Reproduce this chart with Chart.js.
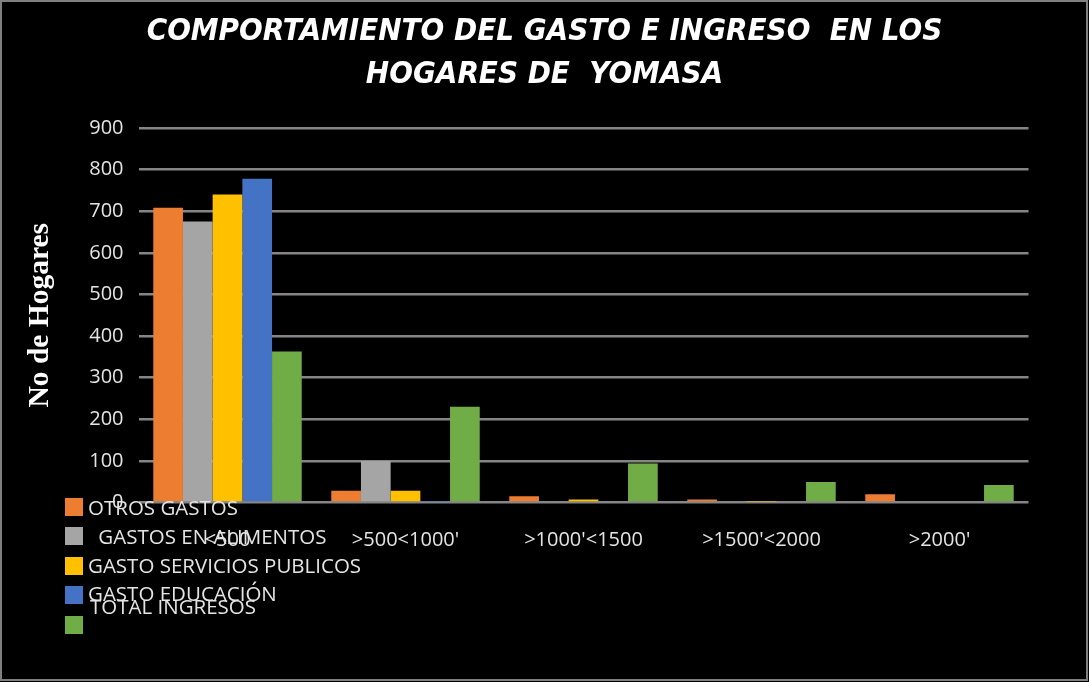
<!DOCTYPE html>
<html>
<head>
<meta charset="utf-8">
<title>Gasto e ingreso - Yomasa</title>
<script src="https://cdn.jsdelivr.net/npm/chart.js@4.4.1/dist/chart.umd.min.js"></script>
<style>
  html, body { margin: 0; padding: 0; background: #000; }
  #wrap { width: 1089px; height: 682px; position: relative; }
</style>
</head>
<body>
<div id="wrap"><canvas id="chart" width="1089" height="682"></canvas></div>
<script>
// data
const categories = ['<500', ">500<1000'", ">1000'<1500", ">1500'<2000", ">2000'"];
const seriesNames = ['OTROS GASTOS', ' GASTOS EN ALIMENTOS', 'GASTO SERVICIOS PUBLICOS', 'GASTO EDUCACIÓN', 'TOTAL INGRESOS'];
const otrosGastos = [708, 28, 15, 7, 20];
const gastosAlimentos = [675, 100, 0, 0, 0];
const gastoServicios = [740, 28, 7, 2, 3];
const gastoEducacion = [778, 2, 0, 0, 3];
const totalIngresos = [363, 230, 94, 49, 42];
const yTicks = [0, 100, 200, 300, 400, 500, 600, 700, 800, 900];

const colors = ['#ED7D31', '#A5A5A5', '#FFC000', '#4472C4', '#70AD47'];
const allSeries = [otrosGastos, gastosAlimentos, gastoServicios, gastoEducacion, totalIngresos];

const txtColor = '#e4e4e4';
const tickFont = { family: "'Open Sans', sans-serif", size: 20 };

// legend rows sit over the axis labels like in the original, so draw it by hand
const legendRows = [
    { box: 498, text: 509, tx: 88 },
    { box: 527, text: 538, tx: 93 },
    { box: 557, text: 567, tx: 88 },
    { box: 586, text: 595, tx: 88 },
    { box: 616, text: 608, tx: 90 }
];

const manualLegend = {
    id: 'manualLegend',
    beforeDraw(chart) {
        const ctx = chart.ctx;
        ctx.save();
        ctx.fillStyle = '#000';
        ctx.fillRect(0, 0, chart.width, chart.height);
        ctx.restore();
    },
    afterDraw(chart) {
        const ctx = chart.ctx;
        ctx.save();
        ctx.font = "20.5px 'Open Sans', sans-serif";
        ctx.textBaseline = 'middle';
        chart.data.datasets.forEach((ds, i) => {
            const r = legendRows[i];
            ctx.fillStyle = ds.backgroundColor;
            ctx.fillRect(65, r.box, 18, 18);
            ctx.fillStyle = txtColor;
            ctx.fillText(ds.label, r.tx, r.text);
        });
        // frame
        ctx.strokeStyle = '#7f7f7f';
        ctx.lineWidth = 2;
        ctx.strokeRect(1, 1, chart.width - 3, chart.height - 3);
        ctx.restore();
    }
};

const ctx = document.getElementById('chart').getContext('2d');
const myChart = new Chart(ctx, {
    type: 'bar',
    data: {
        labels: categories,
        datasets: allSeries.map((vals, i) => ({
            label: seriesNames[i],
            data: vals,
            backgroundColor: colors[i],
            borderWidth: 0,
            categoryPercentage: 0.834,
            barPercentage: 1
        }))
    },
    options: {
        responsive: false,
        animation: false,
        layout: { padding: { left: 0, right: 0, top: 0, bottom: 0 } },
        plugins: {
            legend: { display: false },
            tooltip: { enabled: false },
            title: {
                display: true,
                text: ['COMPORTAMIENTO DEL GASTO E INGRESO  EN LOS', 'HOGARES DE  YOMASA'],
                color: '#ffffff',
                font: { family: "'DejaVu Sans Condensed', sans-serif", size: 31, style: 'italic', weight: 'bold', lineHeight: 1.38 },
                padding: { top: 11, bottom: 31.4 }
            }
        },
        scales: {
            x: {
                grid: { display: false },
                border: { display: false },
                ticks: { color: txtColor, font: tickFont, padding: 18, maxRotation: 0, autoSkip: false },
                afterFit: s => { s.height = 682 - 502.5; }
            },
            y: {
                min: 0,
                max: 900,
                afterBuildTicks: s => { s.ticks = yTicks.map(v => ({ value: v })); },
                grid: { color: '#858585', lineWidth: 2.5, drawTicks: false },
                border: { display: false },
                ticks: { color: txtColor, font: tickFont, padding: 15 },
                title: {
                    display: true,
                    text: 'No de Hogares',
                    color: '#ffffff',
                    font: { family: "'Liberation Serif', serif", size: 29.5, weight: 'bold' },
                    padding: { top: 23, bottom: 0 }
                },
                afterFit: s => { s.width = 138.5; }
            },
            // empty right axis keeps the plot off the right edge while the title stays centred
            yR: {
                position: 'right',
                grid: { display: false },
                border: { display: false },
                ticks: { display: false },
                afterFit: s => { s.width = 60.5; }
            }
        }
    },
    plugins: [manualLegend]
});
</script>
</body>
</html>
